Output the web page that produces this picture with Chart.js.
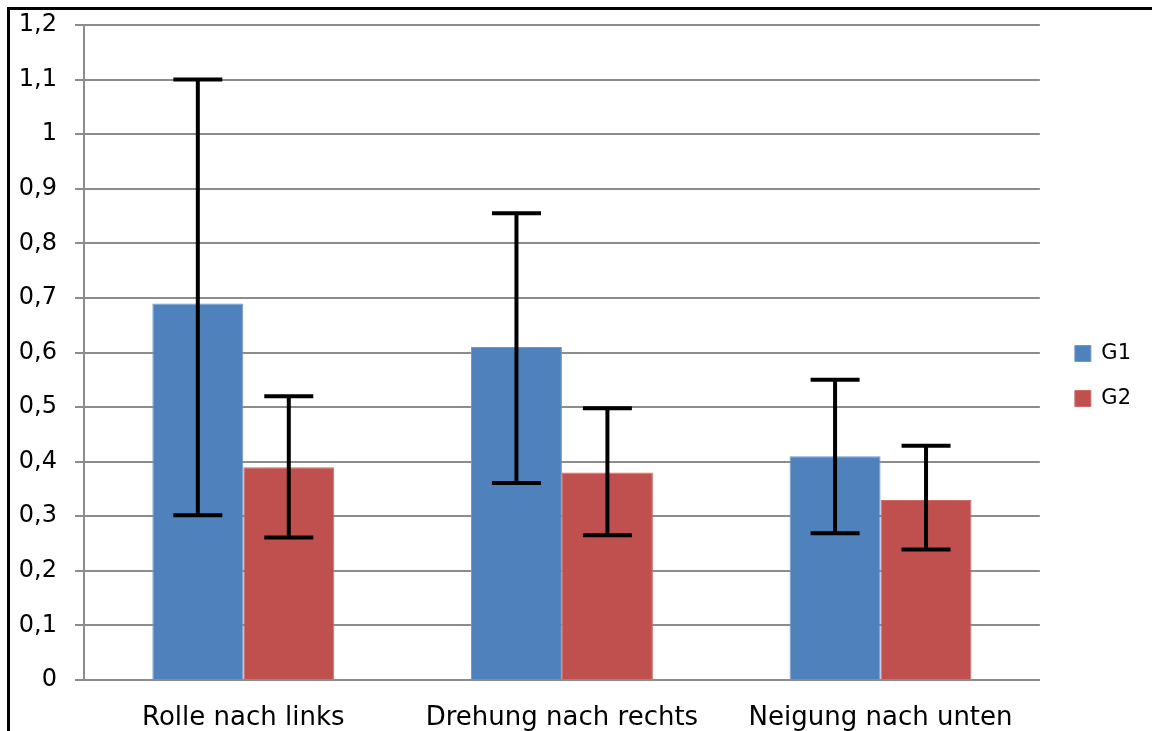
<!DOCTYPE html>
<html>
<head>
<meta charset="utf-8">
<script src="https://cdn.jsdelivr.net/npm/chart.js@4.4.0/dist/chart.umd.min.js"></script>
<style>
  html, body { margin: 0; padding: 0; background: #fff; overflow: hidden; }
  #wrap { position: absolute; left: 0; top: 0; width: 1152px; height: 731px; }
</style>
</head>
<body>
<div id="wrap"><canvas id="c" width="1152" height="731"></canvas></div>
<script>
// Categories and series
const categories = ['Rolle nach links', 'Drehung nach rechts', 'Neigung nach unten'];
const g1Values = [0.69, 0.61, 0.41];
const g2Values = [0.39, 0.38, 0.33];

// Error bar ends (lower / upper)
const g1Low  = [0.302, 0.361, 0.269];
const g1High = [1.10, 0.855, 0.55];
const g2Low  = [0.261, 0.265, 0.239];
const g2High = [0.52, 0.498, 0.429];

// Y-axis tick labels (decimal comma)
const yTickLabels = ['0', '0,1', '0,2', '0,3', '0,4', '0,5', '0,6', '0,7', '0,8', '0,9', '1', '1,1', '1,2'];

const FONT = "'DejaVu Sans', 'Open Sans', sans-serif";
const GRID = '#8c8c8c';
const H = 731;

const errorBars = {
  id: 'errorBars',
  afterDatasetsDraw(chart) {
    const ctx = chart.ctx;
    const y = chart.scales.y;
    const ranges = [[g1Low, g1High], [g2Low, g2High]];
    ctx.save();
    ctx.strokeStyle = '#000';
    ctx.lineWidth = 4;
    ctx.lineCap = 'butt';
    chart.data.datasets.forEach((ds, di) => {
      const meta = chart.getDatasetMeta(di);
      meta.data.forEach((bar, i) => {
        const x = bar.x;
        const yLo = y.getPixelForValue(ranges[di][0][i]);
        const yHi = y.getPixelForValue(ranges[di][1][i]);
        const half = 24.5;
        ctx.beginPath();
        ctx.moveTo(x, yLo); ctx.lineTo(x, yHi);
        ctx.moveTo(x - half, yHi); ctx.lineTo(x + half, yHi);
        ctx.moveTo(x - half, yLo); ctx.lineTo(x + half, yLo);
        ctx.stroke();
      });
    });
    ctx.restore();
  }
};

// Outer frame on the left and top edges
const frame = {
  id: 'frame',
  afterDraw(chart) {
    const ctx = chart.ctx;
    ctx.save();
    ctx.fillStyle = '#000';
    ctx.fillRect(7, 7, 3, chart.height);
    ctx.fillRect(7, 7, chart.width, 3);
    ctx.restore();
  }
};

// Leave a wider gap between the plot area and the legend
const legendGap = {
  id: 'legendGap',
  afterLayout(chart) {
    const lg = chart.legend;
    if (lg) {
      lg.left += 11; lg.right += 11;
      lg.top -= 2; lg.bottom -= 2;
    }
  }
};

new Chart(document.getElementById('c'), {
  type: 'bar',
  data: {
    labels: categories,
    datasets: [
      { label: 'G1', data: g1Values, backgroundColor: '#4f81bd', borderColor: '#6f98c9', borderWidth: 1 },
      { label: 'G2', data: g2Values, backgroundColor: '#c0504d', borderColor: '#cc6c69', borderWidth: 1 }
    ]
  },
  options: {
    responsive: false,
    animation: false,
    devicePixelRatio: 1,
    layout: { padding: { top: 25, left: 0, right: 22, bottom: 0 } },
    datasets: { bar: { barPercentage: 1, categoryPercentage: 0.571 } },
    scales: {
      x: {
        grid: { display: false, drawTicks: false },
        border: { display: true, color: GRID, width: 2 },
        ticks: { color: '#000', font: { family: FONT, size: 26 }, padding: 23, maxRotation: 0, autoSkip: false },
        afterFit(scale) { scale.height = H - 680; }
      },
      y: {
        min: 0, max: 1.2,
        grid: { color: GRID, lineWidth: 2, tickLength: 9, tickColor: GRID },
        border: { display: true, color: GRID, width: 2 },
        ticks: {
          stepSize: 0.1,
          color: '#000',
          padding: 18,
          font: { family: FONT, size: 24 },
          callback: (v, i) => yTickLabels[i]
        },
        afterFit(scale) {
          scale.width = 84;
          scale.paddingTop = 0;
          scale.paddingBottom = 0;
        }
      }
    },
    plugins: {
      legend: {
        position: 'right',
        labels: {
          color: '#000',
          font: { family: FONT, size: 21 },
          boxWidth: 16,
          boxHeight: 16,
          padding: 24
        }
      },
      tooltip: { enabled: false }
    }
  },
  plugins: [errorBars, frame, legendGap]
});
</script>
</body>
</html>
